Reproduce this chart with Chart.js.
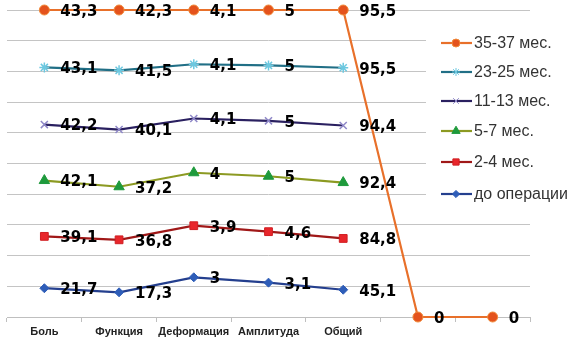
<!DOCTYPE html>
<html lang="ru">
<head>
    <meta charset="UTF-8">
    <title>Оценка по шкале</title>
    <script src="https://cdn.jsdelivr.net/npm/chart.js"></script>
    <style>
        html, body { margin: 0; padding: 0; background: #fff; }
        #wrap { width: 576px; height: 339px; }
    </style>
</head>
<body>
    <div id="wrap"><canvas id="chart" width="576" height="339"></canvas></div>

    <script>
        // categories (last two are empty columns where only the top series drops to 0)
        const categories = ['Боль', 'Функция', 'Деформация', 'Амплитуда', 'Общий', '', ''];

        // raw values, bottom series first (100% stacked line)
        const beforeOp = [21.7, 17.3, 3, 3.1, 45.1, null, null];
        const m2_4     = [39.1, 36.8, 3.9, 4.6, 84.8, null, null];
        const m5_7     = [42.1, 37.2, 4, 5, 92.4, null, null];
        const m11_13   = [42.2, 40.1, 4.1, 5, 94.4, null, null];
        const m23_25   = [43.1, 41.5, 4.1, 5, 95.5, null, null];
        const m35_37   = [43.3, 42.3, 4.1, 5, 95.5, 0, 0];

        const seriesNames = ['до операции', '2-4 мес.', '5-7 мес.', '11-13 мес.', '23-25 мес.', '35-37 мес.'];
        const seriesValues = [beforeOp, m2_4, m5_7, m11_13, m23_25, m35_37];

        const styles = [
            { line: '#243F8E', fill: '#2E5DB8', border: '#2E5DB8', point: 'rectRot', r: 4.5 },
            { line: '#A01818', fill: '#E8262B', border: '#D01E22', point: 'rect', r: 5.5 },
            { line: '#8C9A22', fill: '#1E9A3C', border: '#1E9A3C', point: 'triangle', r: 6 },
            { line: '#2A2060', fill: '#8F88C8', border: '#8F88C8', point: 'crossRot', r: 5 },
            { line: '#216F86', fill: '#6CC8E0', border: '#6CC8E0', point: 'star', r: 5 },
            { line: '#E8702A', fill: '#E4521C', border: '#F08A3A', point: 'circle', r: 5 }
        ];

        // build cumulative percentages per column
        const totals = categories.map((c, i) =>
            seriesValues.reduce((s, arr) => s + (arr[i] == null ? 0 : arr[i]), 0));
        const cum = categories.map(() => 0);
        const datasets = seriesValues.map((arr, k) => {
            const pts = arr.map((v, i) => {
                if (v == null) return null;
                cum[i] += v;
                return totals[i] === 0 ? 0 : cum[i] / totals[i] * 100;
            });
            const st = styles[k];
            return {
                label: seriesNames[k],
                data: pts,
                raw: arr,
                borderColor: st.line,
                backgroundColor: st.fill,
                pointBorderColor: st.border,
                pointBackgroundColor: st.fill,
                pointStyle: st.point,
                pointRadius: st.r,
                pointBorderWidth: st.point === 'crossRot' || st.point === 'star' ? 1.5 : 1,
                borderWidth: 2.2,
                tension: 0,
                clip: false,
                spanGaps: false
            };
        });

        // value labels to the right of each point
        const valueLabels = {
            id: 'valueLabels',
            afterDatasetsDraw(chart) {
                const ctx = chart.ctx;
                ctx.save();
                ctx.font = "bold 15px 'DejaVu Sans'";
                ctx.fillStyle = '#000';
                ctx.textBaseline = 'middle';
                ctx.textAlign = 'left';
                chart.data.datasets.forEach((ds, di) => {
                    const meta = chart.getDatasetMeta(di);
                    meta.data.forEach((pt, i) => {
                        const v = ds.raw[i];
                        if (v == null) return;
                        ctx.fillText(String(v).replace('.', ','), pt.x + 16, pt.y + 2);
                    });
                });
                ctx.restore();
            }
        };

        // legend on the right, over the gridlines
        const sideLegend = {
            id: 'sideLegend',
            afterDraw(chart) {
                const ctx = chart.ctx;
                ctx.save();
                ctx.fillStyle = '#fff';
                ctx.fillRect(426, 25, 150, 185);
                ctx.font = "16px 'Liberation Sans'";
                ctx.textBaseline = 'middle';
                const ys = [43, 72, 101, 131, 162, 194];
                for (let k = 5; k >= 0; k--) {
                    const st = styles[k];
                    const y = ys[5 - k];
                    ctx.strokeStyle = st.line;
                    ctx.lineWidth = 2.2;
                    ctx.beginPath();
                    ctx.moveTo(441, y);
                    ctx.lineTo(472, y);
                    ctx.stroke();
                    ctx.fillStyle = st.fill;
                    ctx.strokeStyle = st.border;
                    ctx.lineWidth = 1;
                    Chart.helpers.drawPoint(ctx, { pointStyle: st.point, radius: st.r * 0.8, borderWidth: 1, rotation: 0 }, 456, y);
                    ctx.fillStyle = '#333';
                    ctx.fillText(seriesNames[k], 474, y + 1);
                }
                ctx.restore();
            }
        };

        new Chart(document.getElementById('chart'), {
            type: 'line',
            data: { labels: categories, datasets: datasets },
            options: {
                responsive: false,
                animation: false,
                layout: { padding: { left: 5, right: 46, top: 10, bottom: 0 } },
                plugins: { legend: { display: false }, tooltip: { enabled: false } },
                scales: {
                    x: {
                        offset: true,
                        grid: { offset: true, drawOnChartArea: false, drawTicks: true, tickLength: 5, color: '#BFBFBF' },
                        border: { color: '#BFBFBF' },
                        ticks: { color: '#222', font: { family: 'Liberation Sans', size: 11, weight: 'bold' }, padding: 3, maxRotation: 0, autoSkip: false },
                        afterFit(scale) { scale.height = 22; }
                    },
                    y: {
                        min: 0, max: 100,
                        ticks: { display: false, stepSize: 10 },
                        grid: { color: '#C4C4C4', drawTicks: false },
                        border: { display: false },
                        afterFit(scale) { scale.width = 0; }
                    }
                }
            },
            plugins: [valueLabels, sideLegend]
        });
    </script>
</body>
</html>
